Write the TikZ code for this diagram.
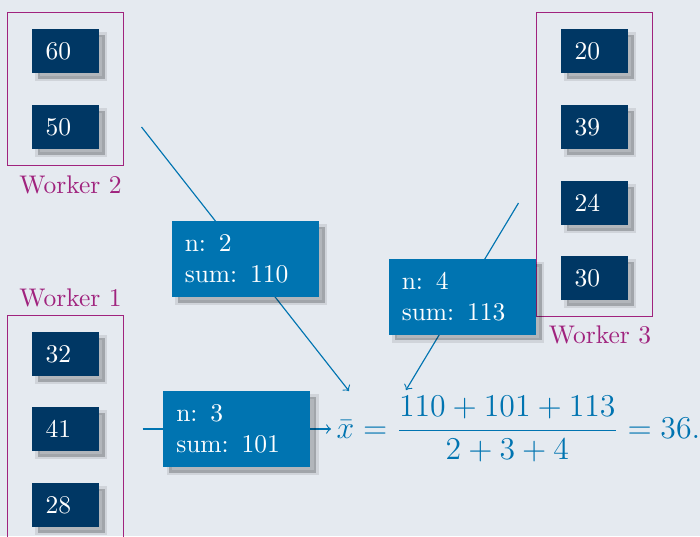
\RequirePackage{fix-cm}
\documentclass[tikz,border=0pt]{standalone}
\usetikzlibrary{shadows,fit}
\definecolor{bg}{HTML}{E5EAF0}
\definecolor{navy}{HTML}{003764}
\definecolor{sumblue}{HTML}{0074B1}
\definecolor{wmag}{HTML}{A0237E}
\def\px{0.392pt}
\begin{document}
\begin{tikzpicture}[x=0.392pt,y=-0.392pt,
  sh/.style={drop shadow={shadow xshift=2.3pt,shadow yshift=-2.3pt,fill=black,
    fill opacity=0.22,draw=black,draw opacity=0.09,line width=2pt}},
  val/.style={fill=navy,text=white,minimum width=67*\px,minimum height=44*\px,
    text width=40*\px,inner xsep=13.5*\px,inner ysep=0pt,align=left,sh},
  sumbox/.style={fill=sumblue,text=white,minimum height=76*\px,
    text width=121*\px,inner xsep=13*\px,inner ysep=0pt,align=left,sh},
  frame/.style={draw=wmag,line width=0.5pt,inner xsep=24*\px,inner ysep=16*\px},
  wlabel/.style={text=wmag,inner sep=0pt},
  link/.style={draw=sumblue,line width=0.45pt,->}]
\fill[bg] (0,0) rectangle (700,536);
\useasboundingbox (0,0) rectangle (700,536);
\clip (0,0) rectangle (700,536);
% worker 2
\node[val] (v60) at (65.5,51) {60};
\node[val] (v50) at (65.5,127) {50};
\node[frame,fit=(v60)(v50)] (w2) {};
\node[wlabel] (w2l) at (70.5,185) {Worker 2};
% worker 1
\node[val] (v32) at (65.5,354) {32};
\node[val] (v41) at (65.5,429) {41};
\node[val] (v28) at (65.5,505) {28};
\node[frame,fit=(v32)(v28)] (w1) {};
\node[wlabel] (w1l) at (70.5,298) {Worker 1};
% worker 3
\node[val] (v20) at (594.5,51) {20};
\node[val] (v39) at (594.5,127) {39};
\node[val] (v24) at (594.5,203) {24};
\node[val] (v30) at (594.5,278) {30};
\node[frame,fit=(v20)(v30)] (w3) {};
\node[wlabel] (w3l) at (600,335) {Worker 3};
% formula
\node[text=sumblue,anchor=base west,inner sep=0pt] (f) at (336,438)
  {\fontsize{12.45}{15}\selectfont$\displaystyle \bar{x} = \frac{110+101+113}{2+3+4} = 36.$};
% connectors
\coordinate (a2) at ([xshift=42*\px]v50.east);
\coordinate (a3) at ([xshift=-42*\px]v24.west);
\coordinate (a1) at ([xshift=43*\px]v41.east);
\coordinate (t2) at (349,391);
\coordinate (t3) at (406,390);
\coordinate (t1) at (331,429);
\draw[link] (a2) -- node[sumbox] (s2) {n: 2\\sum: 110} (t2);
\draw[link] (a3) -- node[sumbox] (s3) {n: 4\\sum: 113} (t3);
\draw[link] (a1) -- node[sumbox] (s1) {n: 3\\sum: 101} (t1);
\end{tikzpicture}
\end{document}
